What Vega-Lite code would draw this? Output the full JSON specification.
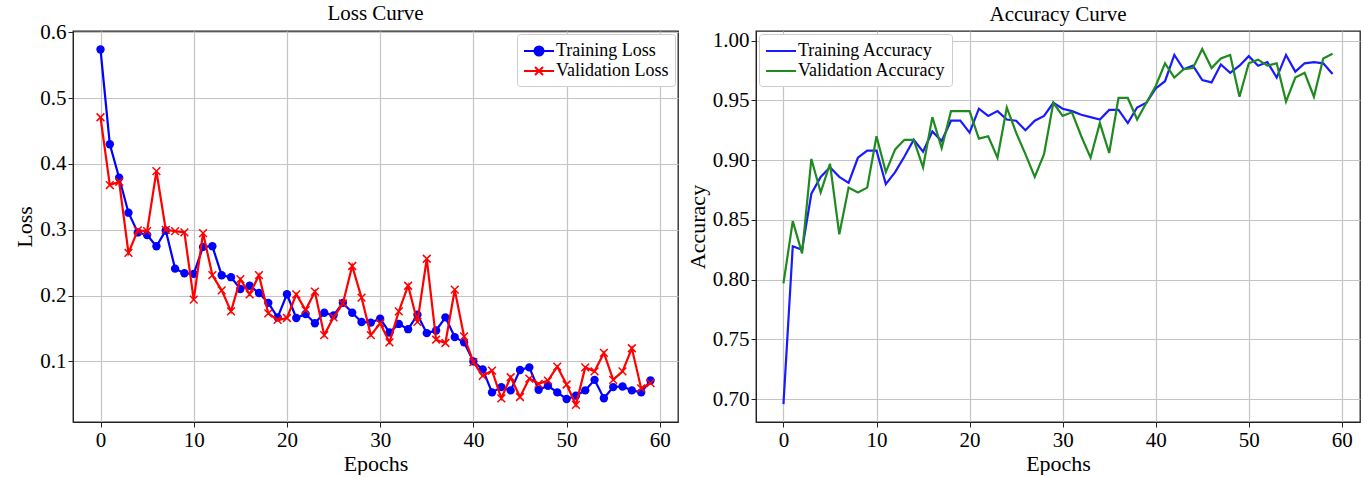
{
  "$schema": "https://vega.github.io/schema/vega-lite/v6.json",
  "background": "white",
  "padding": {"left": 13, "top": 2, "right": 2, "bottom": 0},
  "spacing": 6,
  "resolve": {"scale": {"color": "independent"}, "legend": {"color": "independent"}},
  "data": {"values": [
    {"e":0,"tl":0.574,"vl":0.471,"ta":0.696,"va":0.797},
    {"e":1,"tl":0.430,"vl":0.368,"ta":0.828,"va":0.849},
    {"e":2,"tl":0.379,"vl":0.373,"ta":0.825,"va":0.822},
    {"e":3,"tl":0.326,"vl":0.265,"ta":0.872,"va":0.901},
    {"e":4,"tl":0.296,"vl":0.299,"ta":0.886,"va":0.873},
    {"e":5,"tl":0.292,"vl":0.298,"ta":0.894,"va":0.897},
    {"e":6,"tl":0.275,"vl":0.389,"ta":0.886,"va":0.838},
    {"e":7,"tl":0.299,"vl":0.300,"ta":0.881,"va":0.877},
    {"e":8,"tl":0.241,"vl":0.298,"ta":0.902,"va":0.873},
    {"e":9,"tl":0.234,"vl":0.296,"ta":0.908,"va":0.877},
    {"e":10,"tl":0.233,"vl":0.194,"ta":0.908,"va":0.920},
    {"e":11,"tl":0.274,"vl":0.295,"ta":0.880,"va":0.890},
    {"e":12,"tl":0.275,"vl":0.231,"ta":0.890,"va":0.909},
    {"e":13,"tl":0.231,"vl":0.208,"ta":0.903,"va":0.917},
    {"e":14,"tl":0.228,"vl":0.176,"ta":0.917,"va":0.917},
    {"e":15,"tl":0.210,"vl":0.225,"ta":0.907,"va":0.894},
    {"e":16,"tl":0.215,"vl":0.202,"ta":0.924,"va":0.936},
    {"e":17,"tl":0.204,"vl":0.231,"ta":0.916,"va":0.910},
    {"e":18,"tl":0.189,"vl":0.173,"ta":0.933,"va":0.941},
    {"e":19,"tl":0.167,"vl":0.163,"ta":0.933,"va":0.941},
    {"e":20,"tl":0.202,"vl":0.166,"ta":0.923,"va":0.941},
    {"e":21,"tl":0.166,"vl":0.202,"ta":0.943,"va":0.918},
    {"e":22,"tl":0.172,"vl":0.178,"ta":0.937,"va":0.920},
    {"e":23,"tl":0.158,"vl":0.206,"ta":0.941,"va":0.902},
    {"e":24,"tl":0.174,"vl":0.140,"ta":0.934,"va":0.944},
    {"e":25,"tl":0.170,"vl":0.167,"ta":0.933,"va":0.923},
    {"e":26,"tl":0.189,"vl":0.188,"ta":0.925,"va":0.905},
    {"e":27,"tl":0.174,"vl":0.245,"ta":0.933,"va":0.886},
    {"e":28,"tl":0.160,"vl":0.197,"ta":0.937,"va":0.905},
    {"e":29,"tl":0.159,"vl":0.140,"ta":0.948,"va":0.948},
    {"e":30,"tl":0.165,"vl":0.158,"ta":0.943,"va":0.937},
    {"e":31,"tl":0.144,"vl":0.129,"ta":0.941,"va":0.940},
    {"e":32,"tl":0.157,"vl":0.176,"ta":0.938,"va":0.920},
    {"e":33,"tl":0.149,"vl":0.215,"ta":0.936,"va":0.902},
    {"e":34,"tl":0.171,"vl":0.160,"ta":0.934,"va":0.931},
    {"e":35,"tl":0.143,"vl":0.256,"ta":0.942,"va":0.906},
    {"e":36,"tl":0.147,"vl":0.133,"ta":0.942,"va":0.952},
    {"e":37,"tl":0.167,"vl":0.128,"ta":0.931,"va":0.952},
    {"e":38,"tl":0.137,"vl":0.209,"ta":0.944,"va":0.934},
    {"e":39,"tl":0.129,"vl":0.138,"ta":0.948,"va":0.948},
    {"e":40,"tl":0.100,"vl":0.099,"ta":0.960,"va":0.962},
    {"e":41,"tl":0.088,"vl":0.078,"ta":0.966,"va":0.981},
    {"e":42,"tl":0.053,"vl":0.086,"ta":0.988,"va":0.969},
    {"e":43,"tl":0.061,"vl":0.044,"ta":0.976,"va":0.976},
    {"e":44,"tl":0.056,"vl":0.076,"ta":0.979,"va":0.977},
    {"e":45,"tl":0.087,"vl":0.046,"ta":0.967,"va":0.993},
    {"e":46,"tl":0.091,"vl":0.074,"ta":0.965,"va":0.977},
    {"e":47,"tl":0.057,"vl":0.066,"ta":0.980,"va":0.985},
    {"e":48,"tl":0.063,"vl":0.071,"ta":0.973,"va":0.988},
    {"e":49,"tl":0.053,"vl":0.092,"ta":0.979,"va":0.953},
    {"e":50,"tl":0.043,"vl":0.065,"ta":0.987,"va":0.981},
    {"e":51,"tl":0.048,"vl":0.034,"ta":0.979,"va":0.984},
    {"e":52,"tl":0.056,"vl":0.091,"ta":0.982,"va":0.979},
    {"e":53,"tl":0.072,"vl":0.085,"ta":0.969,"va":0.981},
    {"e":54,"tl":0.044,"vl":0.113,"ta":0.988,"va":0.949},
    {"e":55,"tl":0.061,"vl":0.072,"ta":0.974,"va":0.969},
    {"e":56,"tl":0.062,"vl":0.085,"ta":0.981,"va":0.973},
    {"e":57,"tl":0.056,"vl":0.120,"ta":0.982,"va":0.953},
    {"e":58,"tl":0.053,"vl":0.059,"ta":0.981,"va":0.985},
    {"e":59,"tl":0.071,"vl":0.067,"ta":0.972,"va":0.989}
  ]},
  "hconcat": [
    {
      "width": 605,
      "height": 391,
      "title": {"text": "Loss Curve"},
      "encoding": {
        "x": {"field": "e", "type": "quantitative", "scale": {"domain": [-2.95, 61.95], "nice": false, "zero": false},
              "axis": {"values": [0, 10, 20, 30, 40, 50, 60], "title": "Epochs"}}
      },
      "layer": [
        {
          "mark": {"type": "line", "strokeWidth": 2.2},
          "encoding": {
            "y": {"field": "tl", "type": "quantitative", "scale": {"domain": [0.008, 0.602], "nice": false, "zero": false},
                  "axis": {"values": [0.1, 0.2, 0.3, 0.4, 0.5, 0.6], "format": ".1f", "title": "Loss"}},
            "color": {"datum": "Training Loss", "type": "nominal",
              "scale": {"domain": ["Training Loss", "Validation Loss"], "range": ["#0000ff", "#ff0000"]},
              "legend": {
                "title": null, "orient": "top-right", "offset": 3, "padding": 6,
                "fillColor": "white", "strokeColor": "#cccccc", "cornerRadius": 3,
                "labelFont": "Liberation Serif", "labelFontSize": 18, "labelColor": "black",
                "symbolSize": 400, "symbolStrokeWidth": 2, "symbolOffset": 5, "labelOffset": 6, "rowPadding": 0,
                "encode": {"symbols": {"update": {
                  "shape": {"signal": "datum.value == 'Training Loss' ? 'M-1.5,0H1.5M-0.45,0A0.45,0.45 0 1,0 0.45,0A0.45,0.45 0 1,0 -0.45,0' : 'M-1.5,0H1.5M-0.4,-0.4L0.4,0.4M-0.4,0.4L0.4,-0.4'"},
                  "fill": {"signal": "datum.value == 'Training Loss' ? '#0000ff' : 'transparent'"},
                  "stroke": {"signal": "datum.value == 'Training Loss' ? '#0000ff' : '#ff0000'"},
                  "strokeWidth": {"value": 2},
                  "opacity": {"value": 1}
                }}}
              }}
          }
        },
        {
          "mark": {"type": "point", "shape": "circle", "filled": true, "size": 70, "color": "#0000ff", "opacity": 1},
          "encoding": {"y": {"field": "tl", "type": "quantitative"}}
        },
        {
          "mark": {"type": "line", "strokeWidth": 2.2},
          "encoding": {
            "y": {"field": "vl", "type": "quantitative"},
            "color": {"datum": "Validation Loss", "type": "nominal"}
          }
        },
        {
          "mark": {"type": "point", "shape": "M-1,-1L1,1M-1,1L1,-1", "filled": false, "size": 60, "color": "#ff0000", "strokeWidth": 1.5, "opacity": 1},
          "encoding": {"y": {"field": "vl", "type": "quantitative"}}
        }
      ]
    },
    {
      "width": 604,
      "height": 391,
      "title": {"text": "Accuracy Curve", "dy": -8},
      "encoding": {
        "x": {"field": "e", "type": "quantitative", "scale": {"domain": [-2.95, 61.95], "nice": false, "zero": false},
              "axis": {"values": [0, 10, 20, 30, 40, 50, 60], "title": "Epochs"}}
      },
      "layer": [
        {
          "mark": {"type": "line", "strokeWidth": 2.2},
          "encoding": {
            "y": {"field": "ta", "type": "quantitative", "scale": {"domain": [0.681, 1.008], "nice": false, "zero": false},
                  "axis": {"values": [0.70, 0.75, 0.80, 0.85, 0.90, 0.95, 1.00], "format": ".2f", "title": "Accuracy"}},
            "color": {"datum": "Training Accuracy", "type": "nominal",
              "scale": {"domain": ["Training Accuracy", "Validation Accuracy"], "range": ["#1a1aff", "#1f8a1f"]},
              "legend": {
                "title": null, "orient": "top-left", "offset": 3, "padding": 6,
                "fillColor": "white", "strokeColor": "#cccccc", "cornerRadius": 3,
                "labelFont": "Liberation Serif", "labelFontSize": 18, "labelColor": "black",
                "symbolType": "M-1.5,0H1.5", "symbolSize": 400, "symbolStrokeWidth": 2, "symbolOffset": 5, "labelOffset": 6, "rowPadding": 0
              }}
          }
        },
        {
          "mark": {"type": "line", "strokeWidth": 2.2},
          "encoding": {
            "y": {"field": "va", "type": "quantitative"},
            "color": {"datum": "Validation Accuracy", "type": "nominal"}
          }
        }
      ]
    }
  ],
  "config": {
    "font": "Liberation Serif",
    "view": {"stroke": "#222222", "strokeWidth": 1.3},
    "axis": {
      "labelFont": "Liberation Serif", "labelFontSize": 21, "labelColor": "black",
      "titleFont": "Liberation Serif", "titleFontSize": 22, "titleFontWeight": "normal", "titleColor": "black",
      "gridColor": "#c4c4c4", "gridWidth": 1.2, "domainColor": "#222222", "tickColor": "#222222",
      "tickSize": 5, "labelPadding": 2, "titlePadding": 3
    },
    "title": {"font": "Liberation Serif", "fontSize": 21, "fontWeight": "normal", "color": "black", "offset": -3}
  }
}
